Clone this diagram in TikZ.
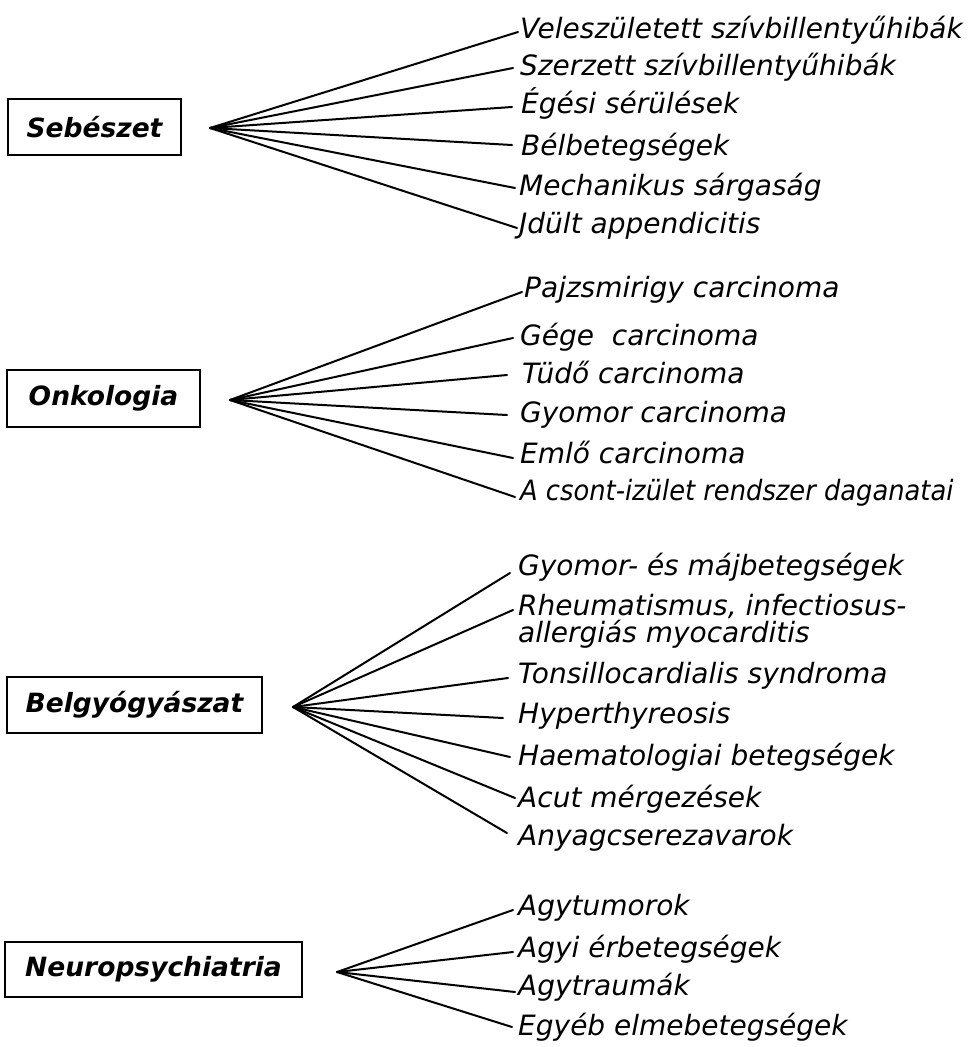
\documentclass[tikz,border=0pt]{standalone}
\usepackage{fontspec}
\setmainfont{DejaVu Sans}
\begin{document}
\begin{tikzpicture}[x=1pt,y=-1pt,
  item/.style={anchor=base west,inner sep=0pt,font=\itshape\fontsize{28}{27}\selectfont,align=left},
  head/.style={draw,line width=2.6pt,inner sep=0pt,font=\bfseries\itshape\fontsize{26.5}{30}\selectfont},
  conn/.style={line width=2pt,line cap=round}]
\useasboundingbox (0,0) rectangle (978,1047);
% ---------- group 1
\node[head,minimum width=173,minimum height=56] (b1) at (94.5,127) {Sebészet};
\coordinate (h1) at (210,128);
\node[item] (s1) at (520,38) {Veleszületett szívbillentyűhibák};
\node[item] (s2) at (520,75) {Szerzett szívbillentyűhibák};
\node[item] (s3) at (521,113) {Égési sérülések};
\node[item] (s4) at (521,155) {Bélbetegségek};
\node[item] (s5) at (519,195) {Mechanikus sárgaság};
\node[item] (s6) at (519,233) {Jdült appendicitis};
\coordinate (e1) at (518,32);
\coordinate (e2) at (513,68);
\coordinate (e3) at (512,107);
\coordinate (e4) at (512,145);
\coordinate (e5) at (515,188);
\coordinate (e6) at (517,228);
\foreach \i in {1,...,6} \draw[conn] (h1) -- (e\i);
% ---------- group 2
\node[head,minimum width=193,minimum height=57] (b2) at (103.5,398.5) {Onkologia};
\coordinate (h2) at (230,400);
\node[item] (o1) at (524,297) {Pajzsmirigy carcinoma};
\node[item] (o2) at (520,345) {Gége\ \ carcinoma};
\node[item] (o3) at (522,383) {Tüdő carcinoma};
\node[item] (o4) at (520,422) {Gyomor carcinoma};
\node[item] (o5) at (520,463) {Emlő carcinoma};
\node[item] (o6) at (520,500) {\scalebox{0.92}[1]{A csont-izület rendszer daganatai}};
\coordinate (f1) at (522,292);
\coordinate (f2) at (513,338);
\coordinate (f3) at (507,375);
\coordinate (f4) at (507,415);
\coordinate (f5) at (513,458);
\coordinate (f6) at (515,497);
\foreach \i in {1,...,6} \draw[conn] (h2) -- (f\i);
% ---------- group 3
\node[head,minimum width=255,minimum height=56] (b3) at (134.5,705) {Belgyógyászat};
\coordinate (h3) at (293,707);
\node[item] (g1) at (518,575) {Gyomor- és májbetegségek};
\node[item] (g2) at (518,642) {Rheumatismus, infectiosus-\\allergiás myocarditis};
\node[item] (g3) at (518,683) {Tonsillocardialis syndroma};
\node[item] (g4) at (518,723) {Hyperthyreosis};
\node[item] (g5) at (518,765) {Haematologiai betegségek};
\node[item] (g6) at (518,807) {Acut mérgezések};
\node[item] (g7) at (518,845) {Anyagcserezavarok};
\coordinate (k1) at (510,573);
\coordinate (k2) at (513,610);
\coordinate (k3) at (508,678);
\coordinate (k4) at (503,718);
\coordinate (k5) at (510,757);
\coordinate (k6) at (515,798);
\coordinate (k7) at (507,833);
\foreach \i in {1,...,7} \draw[conn] (h3) -- (k\i);
% ---------- group 4
\node[head,minimum width=297,minimum height=55] (b4) at (153.5,969.5) {Neuropsychiatria};
\coordinate (h4) at (337,972);
\node[item] (n1) at (518,915) {Agytumorok};
\node[item] (n2) at (518,957) {Agyi érbetegségek};
\node[item] (n3) at (518,995) {Agytraumák};
\node[item] (n4) at (518,1035) {Egyéb elmebetegségek};
\coordinate (m1) at (513,910);
\coordinate (m2) at (513,952);
\coordinate (m3) at (515,992);
\coordinate (m4) at (512,1027);
\foreach \i in {1,...,4} \draw[conn] (h4) -- (m\i);
\end{tikzpicture}
\end{document}
